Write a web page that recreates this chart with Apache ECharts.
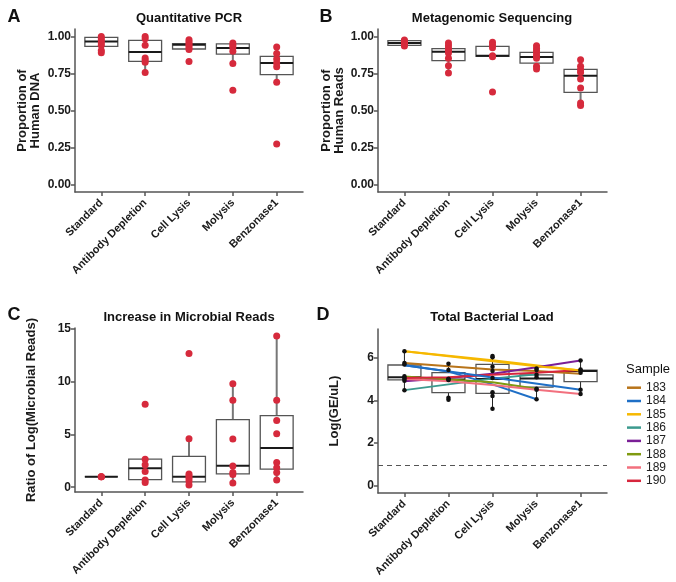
<!DOCTYPE html>
<html>
<head>
<meta charset="utf-8">
<title>Host depletion methods</title>
<script src="https://cdn.jsdelivr.net/npm/echarts@6/dist/echarts.min.js"></script>
<style>
  html, body { margin: 0; padding: 0; background: #fff; }
  #chart { width: 676px; height: 582px; }
</style>
</head>
<body>
<div id="chart"></div>
<script>
// categories (same for every panel)
const conditions = ['Standard', 'Antibody Depletion', 'Cell Lysis', 'Molysis', 'Benzonase1'];

// A: qPCR, proportion of human DNA (points per condition)
const qpcrPoints = [
  [1.00, 0.985, 0.97, 0.955, 0.94, 0.905, 0.89],
  [1.00, 0.985, 0.94, 0.855, 0.84, 0.825, 0.757],
  [0.978, 0.964, 0.951, 0.94, 0.925, 0.912, 0.831],
  [0.955, 0.94, 0.925, 0.90, 0.818, 0.636],
  [0.928, 0.885, 0.847, 0.82, 0.796, 0.69, 0.274]
];
// box stats: [lower whisker, q1, median, q3, upper whisker]
const qpcrBoxes = [
  [0.89, 0.933, 0.966, 0.993, 1.0],
  [0.757, 0.831, 0.895, 0.973, 1.0],
  [0.90, 0.915, 0.944, 0.951, 0.978],
  [0.818, 0.881, 0.922, 0.949, 0.955],
  [0.69, 0.742, 0.82, 0.865, 0.928]
];

// B: metagenomic sequencing, proportion of human reads
const seqPoints = [
  [0.975, 0.968, 0.96, 0.952, 0.945, 0.935],
  [0.955, 0.937, 0.919, 0.904, 0.888, 0.852, 0.802, 0.753],
  [0.96, 0.942, 0.924, 0.87, 0.862, 0.625],
  [0.937, 0.919, 0.904, 0.888, 0.87, 0.852, 0.798, 0.78],
  [0.843, 0.798, 0.775, 0.757, 0.713, 0.652, 0.551, 0.533]
];
const seqBoxes = [
  [0.935, 0.94, 0.955, 0.972, 0.975],
  [0.753, 0.836, 0.897, 0.917, 0.955],
  [0.862, 0.865, 0.87, 0.933, 0.96],
  [0.78, 0.82, 0.861, 0.892, 0.937],
  [0.533, 0.622, 0.735, 0.778, 0.843]
];

// C: ratio of log(microbial reads)
const microbialPoints = [
  [1, 1, 1],
  [7.85, 2.65, 2.12, 1.48, 0.69, 0.44],
  [12.63, 4.59, 1.26, 1.07, 0.85, 0.6, 0.22],
  [9.78, 8.22, 4.56, 2.0, 1.4, 1.2, 0.4],
  [14.3, 8.22, 6.3, 5.06, 2.34, 1.85, 1.39, 0.69]
];
const microbialBoxes = [
  [1, 1, 1, 1, 1],
  [0.44, 0.72, 1.8, 2.65, 2.65],
  [0.22, 0.5, 0.98, 2.91, 4.59],
  [0.4, 1.26, 2.02, 6.39, 9.78],
  [0.69, 1.71, 3.7, 6.77, 14.3]
];

// D: total bacterial load, log(GE/uL)
const loadPoints = [
  [6.3, 5.75, 5.68, 5.13, 5.05, 5.0, 4.92, 4.48],
  [5.72, 5.42, 5.02, 4.98, 4.95, 4.12, 4.03],
  [6.08, 6.02, 5.58, 5.38, 5.05, 4.38, 4.2, 3.6],
  [5.5, 5.42, 5.2, 5.08, 4.55, 4.5, 4.05],
  [5.87, 5.45, 5.4, 5.3, 4.5, 4.3]
];
const loadBoxes = [
  [4.48, 4.96, 5.08, 5.66, 6.3],
  [4.03, 4.36, 4.98, 5.3, 5.72],
  [3.6, 4.33, 5.0, 5.69, 6.08],
  [4.05, 4.62, 5.03, 5.2, 5.5],
  [4.3, 4.88, 5.38, 5.42, 5.87]
];
const samples = ['183', '184', '185', '186', '187', '188', '189', '190'];
const sampleColors = ['#B8741A', '#1F6FC6', '#F6B800', '#3C9A8E', '#7A1F96', '#7F9A10', '#F2707E', '#D7263D'];
// one value per condition, null = not measured
const sampleLoads = [
  [5.75, 5.6, 5.45, 5.38, 5.25],
  [5.65, 5.35, 4.75, 4.05, null],
  [6.3, null, 5.88, null, 5.4],
  [4.48, 4.75, 5.02, 5.22, null],
  [4.9, 5.05, 5.25, 5.55, 5.87],
  [5.12, 4.98, 4.85, 4.55, null],
  [5.0, 4.9, 4.72, 4.5, 4.3],
  [5.05, 5.08, 5.2, 5.3, 5.42]
];
// second paths drawn for 184 and 185
const altPath184 = [5.65, null, null, null, 4.5];
const altPath185 = [6.3, null, null, 5.6, 5.4];
const detectionLimit = 0.94;

const FONT = '"Liberation Sans", Arial, sans-serif';
const RED = '#D62A3C';
const tickPos = [1, 2, 3, 4, 5];

const grids = [
  { left: 75, top: 29, width: 228, height: 163 },
  { left: 378, top: 29, width: 229, height: 163 },
  { left: 75, top: 328, width: 228, height: 164 },
  { left: 378, top: 329, width: 229, height: 164 }
];

const axisLine = { onZero: false, lineStyle: { color: '#555', width: 1.5 } };

function xAxis (i) {
  return {
    gridIndex: i,
    type: 'value',
    min: 0.4,
    max: 5.6,
    splitLine: { show: false },
    axisLine: axisLine,
    axisTick: { customValues: tickPos, length: 4, lineStyle: { color: '#555', width: 1.5 } },
    axisLabel: {
      customValues: tickPos,
      formatter: v => conditions[Math.round(v) - 1],
      rotate: 45,
      margin: 9,
      fontFamily: FONT,
      fontWeight: 'bold',
      fontSize: 11,
      color: '#1a1a1a'
    }
  };
}

function yAxis (i, min, max, ticks, fmt, name, gap) {
  return {
    gridIndex: i,
    type: 'value',
    min: min,
    max: max,
    name: name,
    nameLocation: 'middle',
    nameGap: gap,
    nameTextStyle: { fontFamily: FONT, fontWeight: 'bold', fontSize: 13, color: '#1a1a1a', lineHeight: 13 },
    splitLine: { show: false },
    axisLine: axisLine,
    axisTick: { customValues: ticks, length: 4, lineStyle: { color: '#555', width: 1.5 } },
    axisLabel: {
      customValues: ticks,
      formatter: fmt,
      margin: 4,
      fontFamily: FONT,
      fontWeight: 'bold',
      fontSize: 12,
      color: '#1a1a1a'
    }
  };
}

// box: whiskers, box and median line, built through the axis scales
function boxSeries (i, boxes, whiskerColor, whiskerWidth) {
  return {
    type: 'custom',
    xAxisIndex: i,
    yAxisIndex: i,
    z: 1,
    silent: true,
    encode: { x: 0, y: [1, 2, 3, 4, 5] },
    data: boxes.map((b, k) => [k + 1].concat(b)),
    renderItem: (params, api) => {
      const x = api.value(0);
      const lo = api.coord([x, api.value(1)]);
      const q1 = api.coord([x, api.value(2)]);
      const md = api.coord([x, api.value(3)]);
      const q3 = api.coord([x, api.value(4)]);
      const hi = api.coord([x, api.value(5)]);
      const half = api.size([0.75, 0])[0] / 2;
      const wStyle = { stroke: whiskerColor, lineWidth: whiskerWidth };
      return {
        type: 'group',
        children: [
          { type: 'line', shape: { x1: lo[0], y1: lo[1], x2: q1[0], y2: q1[1] }, style: wStyle },
          { type: 'line', shape: { x1: q3[0], y1: q3[1], x2: hi[0], y2: hi[1] }, style: wStyle },
          { type: 'rect', shape: { x: q3[0] - half, y: q3[1], width: half * 2, height: q1[1] - q3[1] },
            style: { fill: '#fff', stroke: '#555', lineWidth: 1.3 } },
          { type: 'line', shape: { x1: md[0] - half, y1: md[1], x2: md[0] + half, y2: md[1] },
            style: { stroke: '#1a1a1a', lineWidth: 2 } }
        ]
      };
    }
  };
}

function pointSeries (i, pts, color, size) {
  const data = [];
  pts.forEach((arr, k) => arr.forEach(v => data.push([k + 1, v])));
  return {
    type: 'scatter',
    xAxisIndex: i,
    yAxisIndex: i,
    z: 5,
    silent: true,
    symbolSize: size,
    itemStyle: { color: color, opacity: 1 },
    data: data
  };
}

function toPath (vals) {
  return vals.map((v, k) => (v === null ? null : [k + 1, v])).filter(d => d);
}

function lineSeries (name, vals, color) {
  return {
    type: 'line',
    name: name,
    xAxisIndex: 3,
    yAxisIndex: 3,
    z: 3,
    silent: true,
    symbol: 'none',
    lineStyle: { color: color, width: 2 },
    itemStyle: { color: color },
    data: toPath(vals)
  };
}

const fix2 = v => v.toFixed(2);
const plain = v => String(v);

const series = [
  boxSeries(0, qpcrBoxes, '#777', 2),
  pointSeries(0, qpcrPoints, RED, 7),
  boxSeries(1, seqBoxes, '#777', 2),
  pointSeries(1, seqPoints, RED, 7),
  boxSeries(2, microbialBoxes, '#777', 2),
  pointSeries(2, microbialPoints, RED, 7),
  boxSeries(3, loadBoxes, '#222', 1)
];
samples.forEach((s, k) => series.push(lineSeries(s, sampleLoads[k], sampleColors[k])));
series.push(lineSeries('184b', altPath184, sampleColors[1]));
series.push(lineSeries('185b', altPath185, sampleColors[2]));
const loadDots = pointSeries(3, loadPoints, '#111', 4.5);
loadDots.markLine = {
  silent: true,
  symbol: ['none', 'none'],
  label: { show: false },
  lineStyle: { type: [5, 4], color: '#555', width: 1.2 },
  data: [{ yAxis: detectionLimit }]
};
series.push(loadDots);

function text (str, x, y, font, align) {
  return {
    type: 'text',
    x: x,
    y: y,
    silent: true,
    style: { text: str, font: font, fill: '#111', textAlign: align || 'center', textVerticalAlign: 'middle' }
  };
}

const option = {
  animation: false,
  backgroundColor: '#fff',
  grid: grids.map(g => Object.assign({ containLabel: false, outerBoundsMode: 'none' }, g)),
  xAxis: [0, 1, 2, 3].map(xAxis),
  yAxis: [
    yAxis(0, -0.05, 1.05, [0, 0.25, 0.5, 0.75, 1], fix2, 'Proportion of\nHuman DNA', 33),
    yAxis(1, -0.05, 1.05, [0, 0.25, 0.5, 0.75, 1], fix2, 'Proportion of\nHuman Reads', 32),
    yAxis(2, -0.45, 15.05, [0, 5, 10, 15], plain, 'Ratio of Log(Microbial Reads)', 37),
    yAxis(3, -0.35, 7.35, [0, 2, 4, 6], plain, 'Log(GE/uL)', 37)
  ],
  legend: {
    orient: 'vertical',
    left: 627,
    top: 381.7,
    padding: 0,
    icon: 'rect',
    itemWidth: 14,
    itemHeight: 2.5,
    itemGap: 1.3,
    selectedMode: false,
    data: samples,
    textStyle: { fontFamily: FONT, fontSize: 12, color: '#222', lineHeight: 12 }
  },
  graphic: [
    text('A', 14, 17, 'bold 18px ' + FONT),
    text('B', 326, 17, 'bold 18px ' + FONT),
    text('C', 14, 315, 'bold 18px ' + FONT),
    text('D', 323, 315, 'bold 18px ' + FONT),
    text('Quantitative PCR', 189, 18, 'bold 13px ' + FONT),
    text('Metagenomic Sequencing', 492, 18, 'bold 13px ' + FONT),
    text('Increase in Microbial Reads', 189, 317, 'bold 13px ' + FONT),
    text('Total Bacterial Load', 492, 317, 'bold 13px ' + FONT),
    text('Sample', 626, 369, '13px ' + FONT, 'left')
  ],
  series: series
};

const chart = echarts.init(document.getElementById('chart'));
chart.setOption(option);
</script>
</body>
</html>
